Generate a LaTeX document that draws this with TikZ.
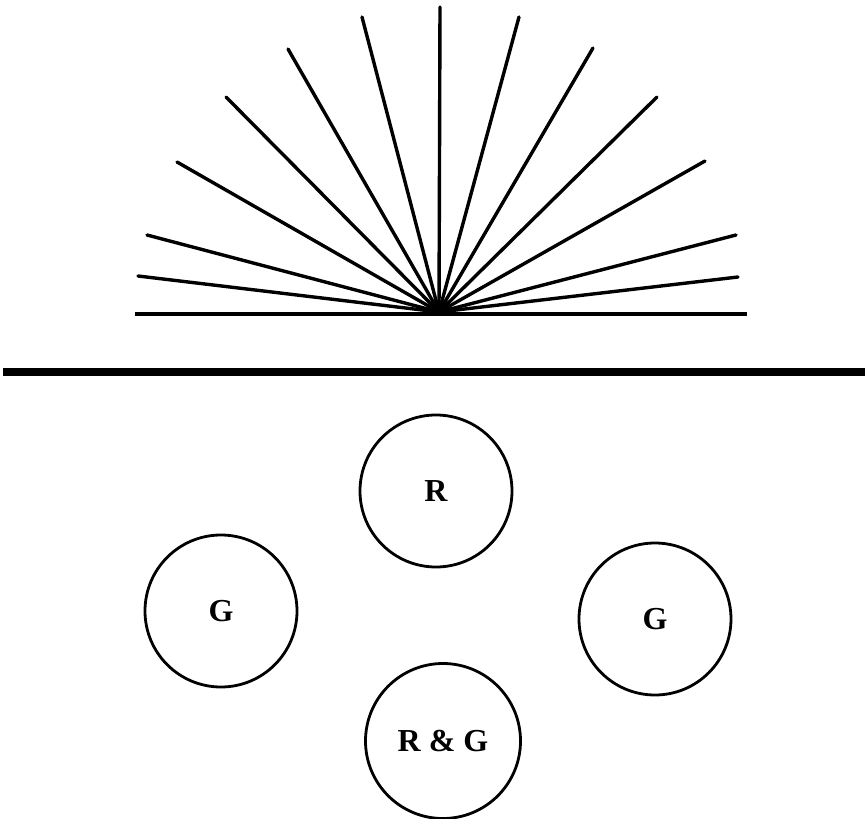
\documentclass[tikz,border=0pt]{standalone}
\usepackage{fontspec}
\setmainfont{Liberation Serif}
\usepackage{tikz}
\usetikzlibrary{calc}
\tikzset{
  ray/.style   ={line width=3.4pt, line cap=round},
  ground/.style={line width=3.8pt},
  divider/.style={line width=7.5pt},
  spot/.style  ={draw, circle, line width=2.8pt, minimum size=152pt, inner sep=0pt, font=\fontsize{32}{36}\selectfont\bfseries}
}
\begin{document}
\begin{tikzpicture}[x=1pt, y=-1pt]
  \useasboundingbox (0,0) rectangle (865,819);
  \coordinate (src) at (439,312);
  % fan of rays
  \foreach \ex/\ey in {138/276, 147/235, 177/162, 226/97, 288/49, 362/17, 440/7,
                       519/17, 593/48, 657/97, 705/161, 736/235, 738/277}
    \draw[ray] (src) -- (\ex,\ey);
  \coordinate (gl) at (135,314);
  \coordinate (gr) at (747,314);
  \draw[ground] (gl) -- (gr);
  \coordinate (dl) at (3,372);
  \coordinate (dr) at (865,372);
  \draw[divider] (dl) -- (dr);
  % spots
  \node[spot] (red)   at (436,491) {R};
  \node[spot] (lgrn)  at (221,611) {G};
  \node[spot] (rgrn)  at (655,619) {G};
  \node[spot, minimum size=155pt] (both) at (443,741) {R \& G};
\end{tikzpicture}
\end{document}
